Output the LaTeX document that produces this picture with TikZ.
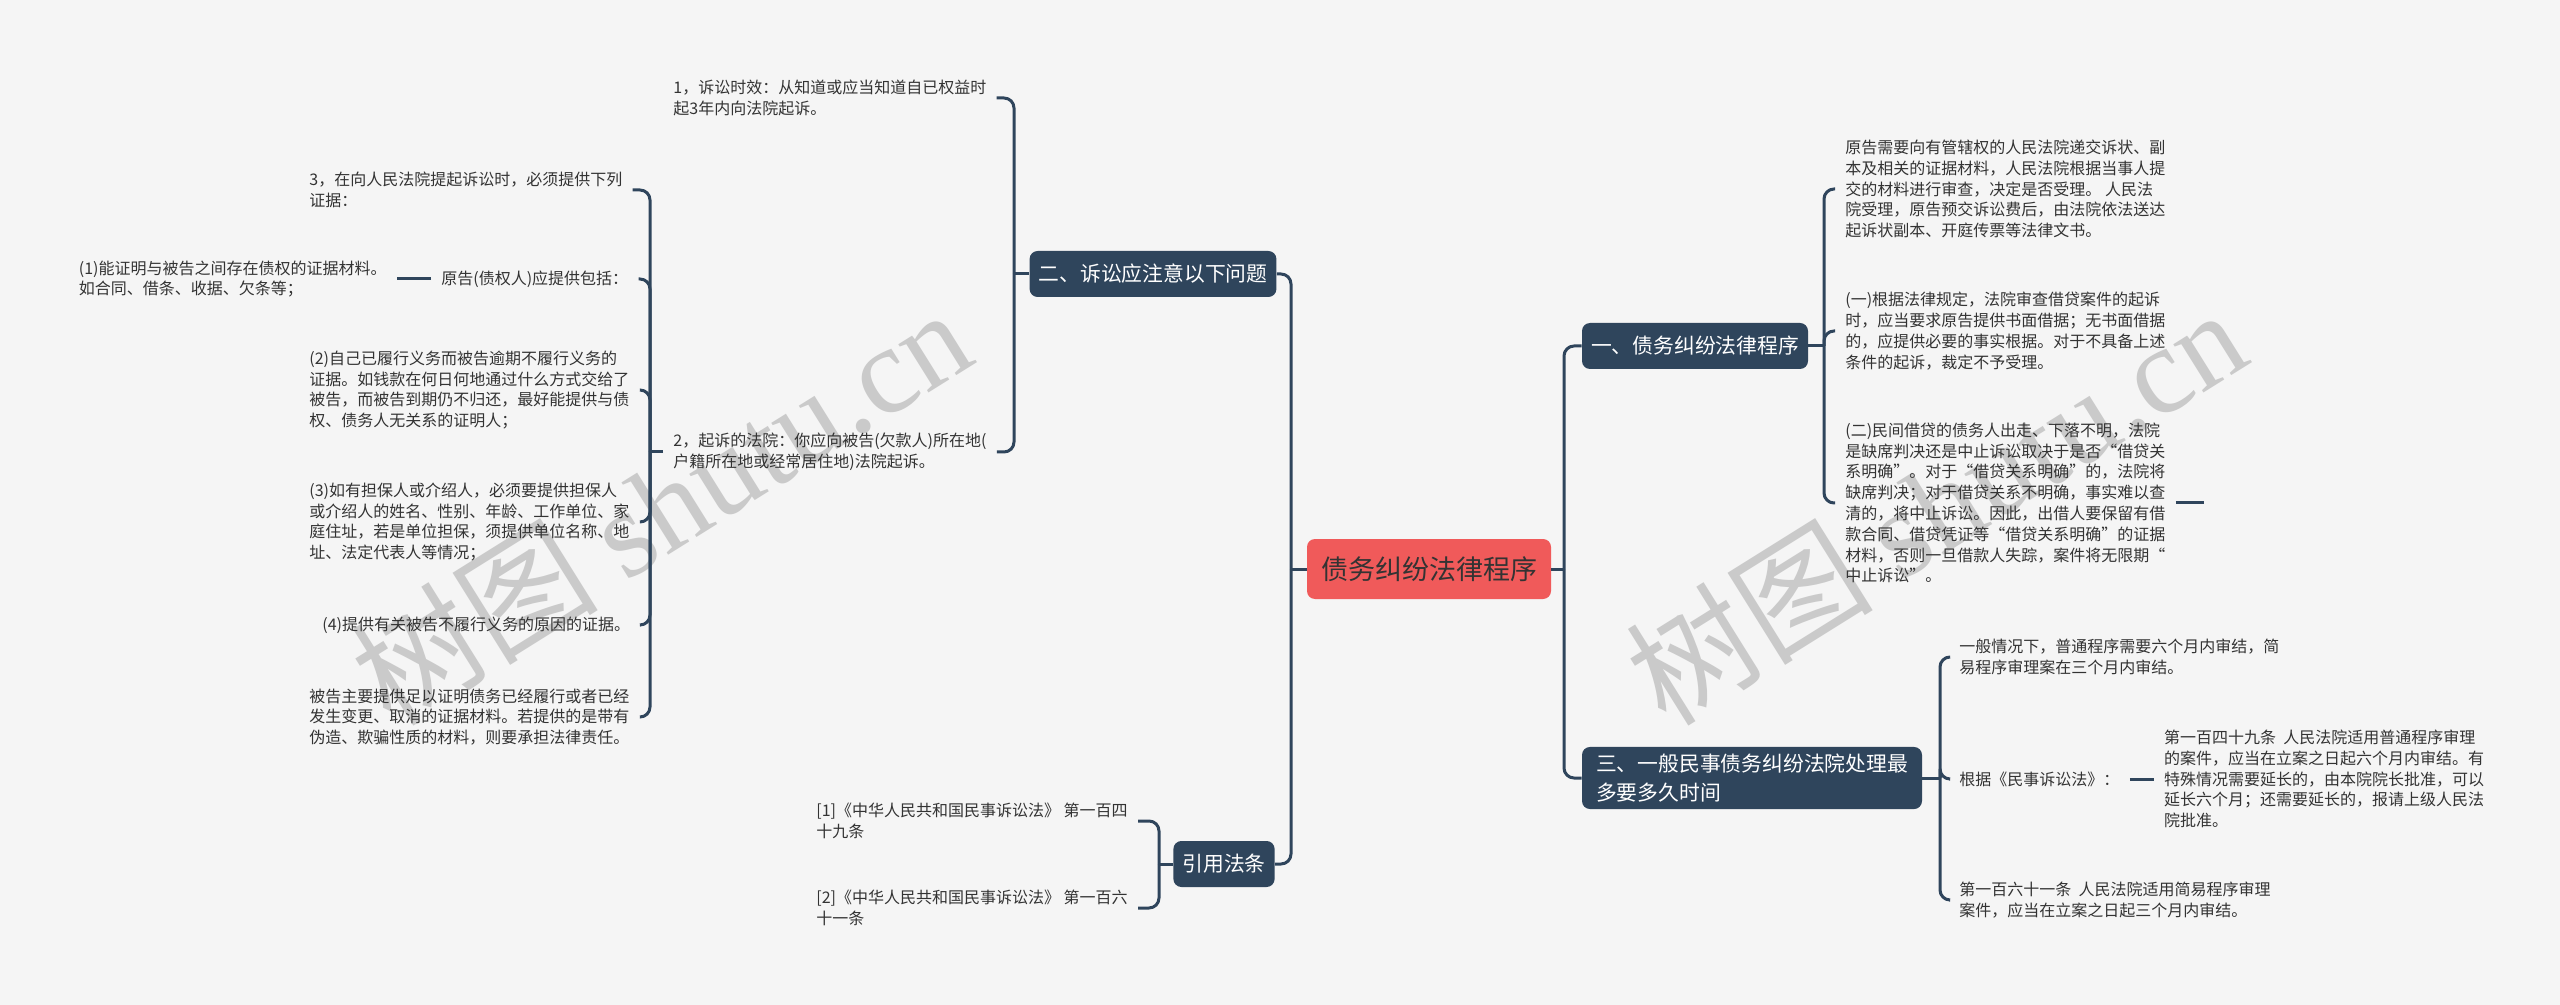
\documentclass[tikz,border=0pt]{standalone}
\usepackage{fontspec}
\setmainfont{Noto Sans CJK SC}
\newfontfamily\latinserif{Liberation Serif}
\usetikzlibrary{positioning}
\definecolor{canvas}{HTML}{F5F5F5}
\definecolor{slate}{HTML}{2F455C}
\definecolor{coral}{HTML}{F05A5A}
\definecolor{ink}{HTML}{333333}
\definecolor{mark}{HTML}{CACACA}

\begin{document}
\begin{tikzpicture}[
  x=0.5pt, y=-0.5pt,
  root/.style={fill=coral, text=ink, rounded corners=4pt, font=\fontsize{13.5}{16}\selectfont, minimum height=30pt, inner xsep=7pt},
  topic/.style={fill=slate, text=white, rounded corners=4pt, font=\fontsize{10.4}{14.7}\selectfont, minimum height=23pt, inner xsep=4.5pt, align=left},
  leaf/.style={text=ink, font=\fontsize{8}{10.4}\selectfont, align=left, inner xsep=5pt, inner ysep=1pt, anchor=west},
  link/.style={draw=slate, line width=1.5pt, rounded corners=5pt},
  wm/.style={text=mark, rotate=32, font=\fontsize{62}{62}\selectfont}
]
\fill[canvas] (0,0) rectangle (2560,1005);
\useasboundingbox (0,0) rectangle (2560,1005);

\node[wm] (wmleft) at (660,505) {树图 {\latinserif shutu.cn}};
\node[wm] (wmright) at (1935,505) {树图 {\latinserif shutu.cn}};

\node[root] (root) at (1429,569) {债务纠纷法律程序};
\node[topic] (b2) at (1153,274) {二、诉讼应注意以下问题};
\node[topic] (law) at (1224,864) {引用法条};
\node[topic] (b1) at (1695,346) {一、债务纠纷法律程序};
\node[topic, inner xsep=7pt] (b3) at (1752,778) {三、一般民事债务纠纷法院处理最\\多要多久时间};

\node[leaf] (n21) at (663,98) {1，诉讼时效：从知道或应当知道自已权益时\\起3年内向法院起诉。};
\node[leaf] (n22) at (663,452) {2，起诉的法院：你应向被告(欠款人)所在地(\\户籍所在地或经常居住地)法院起诉。};
\node[leaf] (n3) at (299,190) {3，在向人民法院提起诉讼时，必须提供下列\\证据：};
\node[leaf] (np) at (431,279) {原告(债权人)应提供包括：};
\node[leaf, anchor=east, left=17pt of np] (n1e) {(1)能证明与被告之间存在债权的证据材料。\\如合同、借条、收据、欠条等；};
\node[leaf] (n2e) at (299,390) {(2)自己已履行义务而被告逾期不履行义务的\\证据。如钱款在何日何地通过什么方式交给了\\被告，而被告到期仍不归还，最好能提供与债\\权、债务人无关系的证明人；};
\node[leaf] (n3e) at (299,522) {(3)如有担保人或介绍人，必须要提供担保人\\或介绍人的姓名、性别、年龄、工作单位、家\\庭住址，若是单位担保，须提供单位名称、地\\址、法定代表人等情况；};
\node[leaf] (n4e) at (312,625) {(4)提供有关被告不履行义务的原因的证据。};
\node[leaf] (ndef) at (299,717) {被告主要提供足以证明债务已经履行或者已经\\发生变更、取消的证据材料。若提供的是带有\\伪造、欺骗性质的材料，则要承担法律责任。};

\node[leaf] (law1) at (806,821) {[1]《中华人民共和国民事诉讼法》 第一百四\\十九条};
\node[leaf] (law2) at (806,908) {[2]《中华人民共和国民事诉讼法》 第一百六\\十一条};

\node[leaf] (p1) at (1835,189) {原告需要向有管辖权的人民法院递交诉状、副\\本及相关的证据材料，人民法院根据当事人提\\交的材料进行审查，决定是否受理。 人民法\\院受理，原告预交诉讼费后，由法院依法送达\\起诉状副本、开庭传票等法律文书。};
\node[leaf] (p2) at (1835,331) {(一)根据法律规定，法院审查借贷案件的起诉\\时，应当要求原告提供书面借据；无书面借据\\的，应提供必要的事实根据。对于不具备上述\\条件的起诉，裁定不予受理。};
\node[leaf] (p3) at (1835,503) {(二)民间借贷的债务人出走、下落不明，法院\\是缺席判决还是中止诉讼取决于是否“借贷关\\系明确”。对于“借贷关系明确”的，法院将\\缺席判决；对于借贷关系不明确，事实难以查\\清的，将中止诉讼。因此，出借人要保留有借\\款合同、借贷凭证等“借贷关系明确”的证据\\材料，否则一旦借款人失踪，案件将无限期“\\中止诉讼”。};

\node[leaf] (q1) at (1949,657) {一般情况下，普通程序需要六个月内审结，简\\易程序审理案在三个月内审结。};
\node[leaf] (q2) at (1949,779) {根据《民事诉讼法》：};
\node[leaf, right=12pt of q2] (q2c) {第一百四十九条\ \ 人民法院适用普通程序审理\\的案件，应当在立案之日起六个月内审结。有\\特殊情况需要延长的，由本院院长批准，可以\\延长六个月；还需要延长的，报请上级人民法\\院批准。};
\node[leaf] (q3) at (1949,900) {第一百六十一条\ \ 人民法院适用简易程序审理\\案件，应当在立案之日起三个月内审结。};

\coordinate (rl) at (1291,569);
\coordinate (rr) at (1564,569);
\coordinate (t2) at (1014,274);
\coordinate (t22) at (650,452);
\coordinate (tlaw) at (1159,864);
\coordinate (t1) at (1824,346);
\coordinate (t3) at (1940,778);

\draw[link] (root.west) -- (rl);
\foreach \n in {b2,law} \draw[link] (rl) |- (\n.east);
\draw[link] (root.east) -- (rr);
\foreach \n in {b1,b3} \draw[link] (rr) |- (\n.west);

\draw[link] (b2.west) -- (t2);
\foreach \n in {n21,n22} \draw[link] (t2) |- (\n.east);
\draw[link] (n22.west) -- (t22);
\foreach \n in {n3,np,n2e,n3e,n4e,ndef} \draw[link] (t22) |- (\n.east);
\draw[link] (np.west) -- (n1e.east);

\draw[link] (law.west) -- (tlaw);
\foreach \n in {law1,law2} \draw[link] (tlaw) |- (\n.east);

\draw[link] (b1.east) -- (t1);
\foreach \n in {p1,p2,p3} \draw[link] (t1) |- (\n.west);
\draw[link] (p3.east) -- ++(28,0);

\draw[link] (b3.east) -- (t3);
\foreach \n in {q1,q2,q3} \draw[link] (t3) |- (\n.west);
\draw[link] (q2.east) -- (q2c.west);
\end{tikzpicture}
\end{document}
